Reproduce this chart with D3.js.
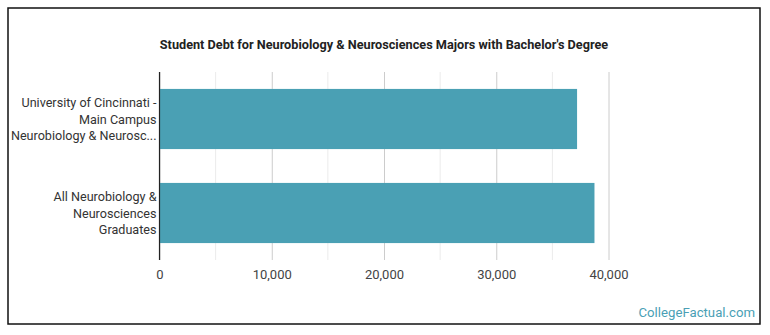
<!DOCTYPE html>
<html>
<head>
<meta charset="utf-8">
<script src="https://cdn.jsdelivr.net/npm/d3@7"></script>
<style>
  html, body { margin: 0; padding: 0; background: #fff; }
  svg { display: block; font-family: Roboto, "Noto Sans", sans-serif; }
</style>
</head>
<body>
<svg id="chart" width="770" height="335"></svg>
<script>
const title = "Student Debt for Neurobiology & Neurosciences Majors with Bachelor's Degree";
const categories = [
  ["University of Cincinnati -", "Main Campus", "Neurobiology & Neurosc..."],
  ["All Neurobiology &", "Neurosciences", "Graduates"]
];
const values = [37200, 38750];
const majorTicks = [0, 10000, 20000, 30000, 40000];
const minorTicks = [5000, 15000, 25000, 35000];
const watermark = "CollegeFactual.com";

const svg = d3.select("#chart");
const plot = { left: 159.5, right: 608.5, top: 72, bottom: 260 };

svg.append("rect")
  .attr("x", 8).attr("y", 8).attr("width", 752).attr("height", 316)
  .attr("fill", "#fff").attr("stroke", "#111").attr("stroke-width", 1.5);

svg.append("text")
  .attr("x", 384).attr("y", 49)
  .attr("text-anchor", "middle")
  .attr("font-size", 12.7).attr("font-weight", "bold")
  .attr("fill", "#222")
  .text(title);

const x = d3.scaleLinear().domain([0, 40000]).range([plot.left, plot.right]);
const y = d3.scaleBand().domain(d3.range(categories.length))
  .range([plot.top, plot.bottom]).paddingInner(0.36).paddingOuter(0.18);

svg.append("g").selectAll("line").data(minorTicks).join("line")
  .attr("x1", d => x(d)).attr("x2", d => x(d))
  .attr("y1", plot.top).attr("y2", plot.bottom)
  .attr("stroke", "#ebebeb").attr("stroke-width", 1);

const axis = d3.axisBottom(x).tickValues(majorTicks)
  .tickFormat(d3.format(",")).tickSize(-(plot.bottom - plot.top)).tickPadding(10);
const gx = svg.append("g").attr("transform", `translate(0,${plot.bottom})`).call(axis);
gx.select(".domain").remove();
gx.selectAll(".tick line").attr("stroke", "#ccc");
gx.selectAll(".tick text").attr("font-size", 13).attr("fill", "#444")
  .attr("font-family", "Roboto, sans-serif");

svg.append("g").selectAll("rect").data(values).join("rect")
  .attr("x", x(0)).attr("y", (d, i) => y(i))
  .attr("width", d => x(d) - x(0)).attr("height", y.bandwidth())
  .attr("fill", "#4aa0b4");

svg.append("line")
  .attr("x1", plot.left).attr("x2", plot.left)
  .attr("y1", plot.top).attr("y2", plot.bottom)
  .attr("stroke", "#222").attr("stroke-width", 1.2);

const lab = svg.append("g").selectAll("text").data(categories).join("text")
  .attr("text-anchor", "end")
  .attr("font-size", 12.6).attr("fill", "#333");
lab.each(function(lines, i) {
  const cy = y(i) + y.bandwidth() / 2;
  const lh = 16.5;
  const t = d3.select(this);
  lines.forEach((s, k) => {
    t.append("tspan").attr("x", 156.5)
      .attr("y", cy + (k - (lines.length - 1) / 2) * lh + 4.5)
      .text(s);
  });
});

svg.append("text")
  .attr("x", 755).attr("y", 317)
  .attr("text-anchor", "end")
  .attr("font-size", 13.2).attr("fill", "#4a9fb5")
  .text(watermark);
</script>
</body>
</html>
